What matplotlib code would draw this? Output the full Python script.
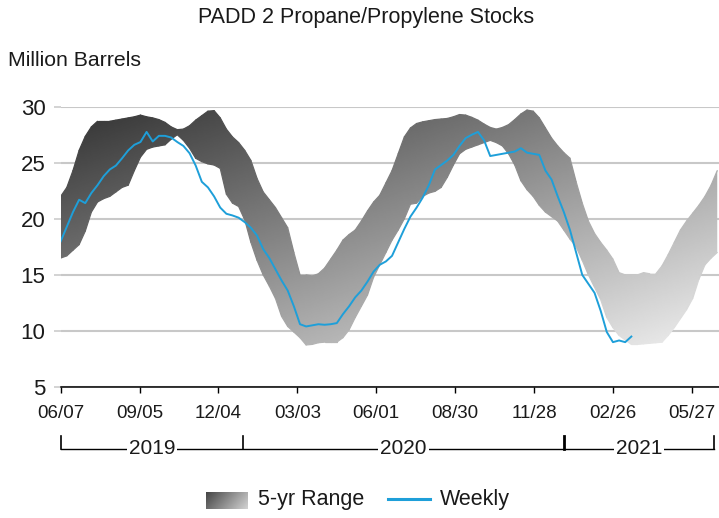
import numpy as np
import matplotlib
matplotlib.use("Agg")
import matplotlib.pyplot as plt
import matplotlib.dates as mdates
import matplotlib.transforms as mtransforms
from matplotlib.patches import Polygon
from matplotlib.lines import Line2D
from matplotlib.collections import LineCollection

plt.rcParams['font.family'] = ['Liberation Sans', 'DejaVu Sans']

# ---- data (million barrels, weekly from 2019-06-07) ----
start_date = np.datetime64('2019-06-07')

range_upper = [
    22.0, 22.8, 24.3, 26.1, 27.35, 28.2, 28.7, 28.7, 28.7, 28.8,
    28.9, 29.0, 29.1, 29.25, 29.1, 29.0, 28.85, 28.6, 28.2, 27.95,
    28.0, 28.3, 28.8, 29.2, 29.6, 29.65, 29.0, 28.0, 27.3, 26.8,
    26.1, 25.2, 23.6, 22.4, 21.7, 21.0, 20.1, 19.2, 17.0, 15.0,
    15.0, 14.9, 15.1, 15.6, 16.4, 17.2, 18.1, 18.6, 19.0, 19.8,
    20.7, 21.5, 22.1, 23.2, 24.3, 25.8, 27.3, 28.1, 28.5, 28.65,
    28.75, 28.85, 28.9, 28.95, 29.1, 29.3, 29.25, 29.05, 28.8, 28.45,
    28.15, 28.0, 28.15, 28.4, 28.85, 29.35, 29.7, 29.6, 29.0, 28.1,
    27.2, 26.5, 25.9, 25.4, 23.3, 21.4, 19.8, 18.7, 17.9, 17.2,
    16.4, 15.2, 15.0, 15.0, 15.0, 15.2, 15.1, 15.1, 15.8, 16.8,
    17.9, 19.0, 19.8, 20.5, 21.2, 22.0, 23.0, 24.3,
]

range_lower = [
    16.5, 16.7, 17.2, 17.7, 18.9, 20.6, 21.5, 21.8, 22.0, 22.4,
    22.8, 23.0, 24.3, 25.5, 26.2, 26.4, 26.5, 26.6, 27.1, 27.5,
    27.0, 26.3, 25.4, 25.1, 24.9, 24.8, 24.5, 22.2, 21.4, 21.1,
    19.9, 17.9, 16.3, 15.0, 14.0, 12.9, 11.3, 10.4, 9.9, 9.4,
    8.75, 8.8, 8.95, 9.0, 9.0, 9.0, 9.4, 10.1, 11.2, 12.2,
    13.2, 14.8, 15.9, 17.0, 18.1, 19.0, 20.0, 21.3, 21.4, 22.0,
    22.3, 22.45, 22.8, 23.7, 24.8, 25.8, 26.2, 26.4, 26.6, 26.8,
    27.0, 26.8, 26.5, 25.8, 24.8, 23.4, 22.6, 22.0, 21.2, 20.6,
    20.2, 19.8, 19.0, 18.2, 17.5, 16.3, 15.0, 13.9, 12.8, 11.2,
    10.3, 9.6, 9.2, 8.8, 8.8, 8.85, 8.9, 8.95, 9.0, 9.6,
    10.3, 11.1, 11.9, 12.9, 14.6, 15.9, 16.5, 17.0,
]

weekly = [
    18.0, 19.3, 20.6, 21.7, 21.4, 22.3, 23.0, 23.8, 24.4, 24.75,
    25.4, 26.1, 26.6, 26.85, 27.75, 26.9, 27.4, 27.4, 27.25, 26.85,
    26.5, 25.85, 24.75, 23.3, 22.8, 22.0, 21.0, 20.45, 20.3, 20.1,
    19.7, 19.2, 18.5, 17.3, 16.5, 15.5, 14.5, 13.6, 12.2, 10.6,
    10.4, 10.5, 10.6, 10.55, 10.6, 10.7, 11.5, 12.2, 13.0, 13.6,
    14.4, 15.3, 15.9, 16.2, 16.7, 17.9, 19.1, 20.2, 21.0, 21.9,
    23.0, 24.4, 24.8, 25.2, 25.7, 26.5, 27.2, 27.5, 27.75, 27.0,
    25.6, 25.7, 25.8, 25.9, 26.0, 26.3, 25.9, 25.8, 25.7, 24.3,
    23.5, 22.0, 20.6, 19.0, 17.0, 15.0, 14.2, 13.4, 11.8, 9.9,
    9.0, 9.15, 9.0, 9.5,
]

tick_labels = ['06/07', '09/05', '12/04', '03/03', '06/01',
               '08/30', '11/28', '02/26', '05/27']
year_labels = ['2019', '2020', '2021']
year_bounds = ['2019-06-07', '2020-01-01', '2021-01-01', '2021-06-21']
y_ticks = [5, 10, 15, 20, 25, 30]

# ---- derived dates ----
week = np.timedelta64(7, 'D')
band_dates = start_date + np.arange(len(range_upper)) * week
weekly_dates = start_date + np.arange(len(weekly)) * week
tick_dates = start_date + np.arange(len(tick_labels)) * np.timedelta64(90, 'D')
x_min = mdates.date2num(start_date)
x_max = mdates.date2num(start_date + np.timedelta64(751, 'D'))


def band_shade(xn, yv):
    """Grey level (0-1) of the diagonal band gradient at data coords."""
    u = (np.asarray(xn) - x_min) / (x_max - x_min)
    v = (30 - np.asarray(yv)) / (30 - 8.3)
    return np.clip(48 + 194 * (u + v) / 2, 0, 245) / 255.0


# ---- figure ----
fig = plt.figure(figsize=(7.19, 5.18), dpi=100)
ax = fig.add_axes([60.7 / 719, 1 - 387 / 518, 1 - 60.7 / 719, (387 - 106.7) / 518])

text_color = '#1a1a1a'
grid_color = '#c8c8c8'

# gridlines
ax.set_axisbelow(True)
ax.yaxis.grid(True, color=grid_color, lw=1.5, zorder=0)
ax.xaxis.grid(False)

# 5-yr range as a gradient clipped to the band polygon
bx = mdates.date2num(band_dates)
up = np.asarray(range_upper)
lo = np.asarray(range_lower)
verts = np.column_stack([np.concatenate([bx, bx[::-1]]),
                         np.concatenate([up, lo[::-1]])])
band = Polygon(verts, closed=True, facecolor='none', edgecolor='none',
               transform=ax.transData)
ax.add_patch(band)

nx, ny = 600, 400
gx = np.linspace(x_min, x_max, nx)[None, :]
gy = np.linspace(30, 5, ny)[:, None]
img = ax.imshow(band_shade(gx, gy), cmap='gray', vmin=0, vmax=1,
                origin='upper', extent=[x_min, x_max, 5, 30], aspect='auto',
                interpolation='bilinear', zorder=1)
img.set_clip_path(band)

# soft outline along the band edges (same gradient colour) for smooth edges
for edge in (up, lo):
    pts = np.column_stack([bx, edge])
    segs = np.stack([pts[:-1], pts[1:]], axis=1)
    mid = segs.mean(axis=1)
    g = band_shade(mid[:, 0], mid[:, 1])
    lc = LineCollection(segs, colors=np.column_stack([g, g, g, np.ones_like(g)]),
                        linewidths=0.9, zorder=1.5, antialiased=True,
                        capstyle='round')
    ax.add_collection(lc)

# weekly stocks
ax.plot(mdates.date2num(weekly_dates), weekly, color='#1e9fd9', lw=1.4,
        zorder=3, solid_joinstyle='round')

# axes limits / ticks
ax.set_xlim(x_min, x_max)
ax.set_ylim(5, 30)
ax.set_yticks(y_ticks)
ax.set_yticklabels([str(y) for y in y_ticks])
ax.set_xticks(mdates.date2num(tick_dates))
ax.set_xticklabels(tick_labels)

for s in ['left', 'top', 'right']:
    ax.spines[s].set_visible(False)
ax.spines['bottom'].set_color('black')
ax.spines['bottom'].set_linewidth(1.1)
ax.spines['bottom'].set_zorder(4)

ax.tick_params(axis='y', length=5, width=1.1, color=grid_color, pad=6,
               labelsize=16, labelcolor=text_color)
ax.tick_params(axis='x', length=4, width=1.0, color='black', pad=9,
               labelsize=13.5, labelcolor=text_color)

# year bracket under the date labels
trans = mtransforms.blended_transform_factory(ax.transData, ax.transAxes)
yb = -(449 - 387) / (387 - 106.7)
yt = -(436 - 387) / (387 - 106.7)
bnum = [mdates.date2num(np.datetime64(d)) for d in year_bounds]
ax.add_line(Line2D([bnum[0], bnum[-1]], [yb, yb], transform=trans,
                   color='black', lw=1.0, clip_on=False))
for i, b in enumerate(bnum):
    lw = 2.0 if i == 2 else 1.2
    ax.add_line(Line2D([b, b], [yb, yt], transform=trans, color='black',
                       lw=lw, clip_on=False))
for lab, a, b in zip(year_labels, bnum[:-1], bnum[1:]):
    ax.text((a + b) / 2, yb, lab, transform=trans, ha='center', va='center',
            fontsize=15, color=text_color,
            bbox=dict(facecolor='white', edgecolor='none', pad=1.5))

# title and unit label
fig.text(366 / 719, 1 - 18 / 518, 'PADD 2 Propane/Propylene Stocks',
         ha='center', va='center', fontsize=15.5, color=text_color)
fig.text(8 / 719, 1 - 60 / 518, 'Million Barrels', ha='left', va='center',
         fontsize=15.3, color=text_color)

# legend
sw = fig.add_axes([206 / 719, 1 - 509 / 518, 42 / 719, 17 / 518])
gu = np.linspace(0, 1, 60)[None, :]
gv = np.linspace(0, 1, 20)[:, None]
sw.imshow((70 + 140 * (0.75 * gu + 0.25 * gv)) / 255.0, cmap='gray',
          vmin=0, vmax=1, aspect='auto', interpolation='bilinear')
sw.set_axis_off()
fig.text(258 / 719, 1 - 500 / 518, '5-yr Range', ha='left', va='center',
         fontsize=15.5, color=text_color)
fig.add_artist(Line2D([388 / 719, 430 / 719], [1 - 499 / 518, 1 - 499 / 518],
                      transform=fig.transFigure, color='#1e9fd9', lw=2.2))
fig.text(440 / 719, 1 - 500 / 518, 'Weekly', ha='left', va='center',
         fontsize=15.5, color=text_color)

fig.savefig('out.png', dpi=100, facecolor='white')
